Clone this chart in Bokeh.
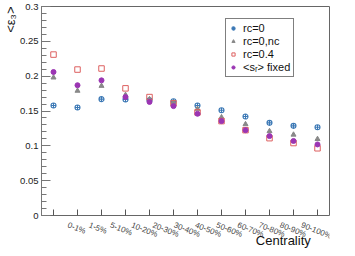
import math
from bokeh.plotting import figure
from bokeh.layouts import column
from bokeh.models import (Range1d, FactorRange, FixedTicker, CustomJSTickFormatter,
                          Legend, LegendItem, Title)
from bokeh.embed import file_html
from bokeh.resources import INLINE

categories = ["0-1%", "1-5%", "5-10%", "10-20%", "20-30%", "30-40%",
              "40-50%", "50-60%", "60-70%", "70-80%", "80-90%", "90-100%"]
rc0 = [0.158, 0.155, 0.167, 0.1665, 0.1655, 0.164, 0.158, 0.151, 0.142, 0.133, 0.1287, 0.1267]
rc0_nc = [0.198, 0.179, 0.186, 0.173, 0.167, 0.162, 0.153, 0.141, 0.131, 0.121, 0.116, 0.1097]
rc04 = [0.231, 0.2095, 0.211, 0.1825, 0.170, 0.161, 0.148, 0.1355, 0.1225, 0.111, 0.104, 0.0965]
sr_fixed = [0.206, 0.187, 0.194, 0.170, 0.163, 0.157, 0.146, 0.1355, 0.1225, 0.114, 0.107, 0.102]
y_ticks = [0, 0.05, 0.1, 0.15, 0.2, 0.25, 0.3]
y_minor = [i / 100 for i in range(0, 31)]

FONT = "Liberation Sans"
W = 347
LEFT, RIGHT = 38, 18
TOP, BOTTOM = 6, 5
MAIN_H, BOT_H = 220, 28

p = figure(width=W, height=MAIN_H, output_backend="svg", toolbar_location=None,
           x_range=FactorRange(factors=categories, range_padding=0),
           y_range=Range1d(0, 0.3), x_axis_location=None,
           min_border_left=LEFT, min_border_right=RIGHT, min_border_top=TOP,
           min_border_bottom=BOTTOM)
p.background_fill_color = "white"
p.border_fill_color = "white"
p.outline_line_color = "#666666"
p.xgrid.visible = False
p.ygrid.visible = False

# y axis
ya = p.yaxis[0]
ya.ticker = FixedTicker(ticks=y_ticks, minor_ticks=y_minor)
ya.formatter = CustomJSTickFormatter(code="return tick.toFixed(2).replace(/0+$/,'').replace(/\\.$/,'');")
ya.major_tick_in = 9
ya.major_tick_out = 0
ya.minor_tick_in = 5
ya.minor_tick_out = 0
ya.axis_line_color = "#777777"
ya.major_tick_line_color = "#777777"
ya.minor_tick_line_color = "#777777"
ya.major_label_text_font = FONT
ya.major_label_text_font_size = "9.5px"
ya.major_label_text_color = "#222222"
ya.major_label_standoff = 3

# x ticks pointing up into the frame at each category
p.ray(x=categories, y=[0] * len(categories), length=6, length_units="screen",
      angle=math.pi / 2, line_color="#555555", line_width=1)

r_blue = p.scatter(categories, rc0, marker="circle_cross", size=5, fill_color=None,
                   line_color="#3b78b5", line_width=1.1)
r_tri = p.scatter(categories, rc0_nc, marker="triangle", size=5, fill_color="#888888",
                  line_color="#888888")
r_sq = p.scatter(categories, rc04, marker="square", size=5.5, fill_color=None,
                 line_color="#dd6060", line_width=1.0)
r_pur = p.scatter(categories, sr_fixed, marker="circle", size=5, fill_color="#9b35b3",
                  line_color="#9b35b3")

legend = Legend(items=[
    LegendItem(label="rc=0", renderers=[r_blue]),
    LegendItem(label="rc=0,nc", renderers=[r_tri]),
    LegendItem(label="rc=0.4", renderers=[r_sq]),
    LegendItem(label="<sᵣ> fixed", renderers=[r_pur]),
], location=(184, 138))
legend.border_line_color = "black"
legend.border_line_width = 1
legend.background_fill_color = "white"
legend.background_fill_alpha = 1
legend.label_text_font = FONT
legend.label_text_font_size = "11px"
legend.label_text_color = "#111111"
legend.glyph_width = 8
legend.glyph_height = 8
legend.label_height = 11
legend.label_standoff = 6
legend.spacing = 1
legend.padding = 3
legend.margin = 0
p.add_layout(legend, "center")

ytitle = Title(text="<ε₃>", align="right", text_font=FONT, text_font_size="13px",
               text_font_style="normal", text_color="#111111", standoff=0, offset=0)
p.add_layout(ytitle, "left")

# strip below the frame: rotated category labels anchored at each tick, and the x title
n = len(categories)
frame_w = W - LEFT - RIGHT
ppu = frame_w / n
pad_left = 20
p2 = figure(width=W, height=BOT_H, output_backend="svg", toolbar_location=None,
            x_range=Range1d(-pad_left / ppu, (W - (LEFT - pad_left)) / ppu - pad_left / ppu),
            y_range=Range1d(0, 1), x_axis_location=None, y_axis_location=None,
            min_border_left=LEFT - pad_left, min_border_right=0,
            min_border_top=0, min_border_bottom=0)
p2.outline_line_color = None
p2.xgrid.visible = False
p2.ygrid.visible = False
centers = [i + 0.5 for i in range(n)]
p2.text(x=centers, y=[1] * n, text=categories, angle=-0.38, y_offset=0,
        text_align="left", text_baseline="top", text_font={"value": FONT},
        text_font_size="8px", text_color="#444444")
p2.text(x=[n], y=[0], text=["Centrality"], x_offset=-3, y_offset=-1,
        text_align="right", text_baseline="bottom", text_font={"value": FONT},
        text_font_size="13px", text_color="#111111")

layout = column(p, p2, spacing=0)
open("out.html", "w").write(file_html(layout, INLINE))
